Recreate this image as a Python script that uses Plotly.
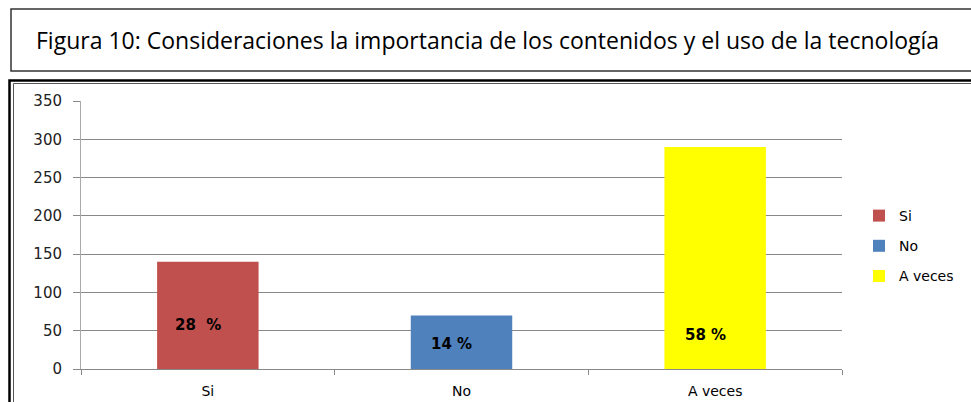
import plotly.graph_objects as go

categories = ["Si", "No", "A veces"]
values = [140, 70, 290]
pct_labels = ["28  %", "14 %", "58 %"]
label_y = [57, 33, 44]
colors = ["#C0504D", "#4F81BD", "#FFFF00"]
y_ticks = [0, 50, 100, 150, 200, 250, 300, 350]
title_text = "Figura 10: Consideraciones la importancia de los contenidos y el uso de la tecnología"

W, H = 971, 402
L, R, T, B = 81, 842, 101, 369
pw, ph = R - L, B - T

def px(x):
    return (x - L) / pw

def py(y):
    return (B - y) / ph

fig = go.Figure()
for c, v, col in zip(categories, values, colors):
    fig.add_trace(go.Bar(x=[c], y=[v], name=c, legendgroup=c,
                         marker=dict(color=col, line=dict(width=0)),
                         width=0.4, offset=-0.2))

for c, t, ly in zip(categories, pct_labels, label_y):
    fig.add_annotation(x=c, y=ly, text="<b>" + t.replace(" ", "&nbsp;") + "</b>", showarrow=False, xshift=-10,
                       font=dict(family="DejaVu Sans", size=15, color="#000000"))

# title box
fig.add_shape(type="rect", xref="paper", yref="paper", x0=px(11), x1=px(985), y0=py(9), y1=py(71),
              line=dict(color="#333333", width=1.5), fillcolor="rgba(0,0,0,0)", layer="above")
fig.add_annotation(xref="paper", yref="paper", x=px(34), y=py(40), xanchor="left", yanchor="middle",
                   text=title_text, showarrow=False,
                   font=dict(family="Open Sans", size=23, color="#000000"))
# chart frame (double line)
fig.add_shape(type="rect", xref="paper", yref="paper", x0=px(9.5), x1=px(990), y0=py(80.5), y1=py(420),
              line=dict(color="#000000", width=2.5), fillcolor="rgba(0,0,0,0)", layer="above")
fig.add_shape(type="rect", xref="paper", yref="paper", x0=px(13.5), x1=px(985), y0=py(83.5), y1=py(415),
              line=dict(color="#555555", width=1), fillcolor="rgba(0,0,0,0)", layer="above")

fig.update_layout(
    width=W, height=H,
    margin=dict(l=L, r=W - R, t=T, b=H - B, autoexpand=False),
    paper_bgcolor="white", plot_bgcolor="white",
    showlegend=True,
    legend=dict(x=px(859), y=py(200), xanchor="left", yanchor="top",
                font=dict(family="DejaVu Sans", size=14, color="#000000"),
                tracegroupgap=9, itemwidth=30, bgcolor="rgba(0,0,0,0)"),
    xaxis=dict(type="category", categoryorder="array", categoryarray=categories,
               automargin=False,
               showline=True, linecolor="#888888", linewidth=1,
               ticks="outside", tickson="boundaries", ticklen=5, tickcolor="#888888",
               ticklabelstandoff=9,
               tickfont=dict(family="DejaVu Sans", size=14, color="#000000"),
               showgrid=False, zeroline=False),
    yaxis=dict(range=[0, 350], tickvals=y_ticks, automargin=False,
               showline=True, linecolor="#AAAAAA", linewidth=1,
               ticks="outside", ticklen=7, tickcolor="#888888", ticklabelstandoff=8,
               gridcolor="#888888", gridwidth=1, zeroline=False,
               tickfont=dict(family="DejaVu Sans", size=15, color="#222222")),
)

fig.write_html("out.html", config={"displayModeBar": False},
               post_script="document.body.style.margin='0';document.body.style.overflow='hidden';")
